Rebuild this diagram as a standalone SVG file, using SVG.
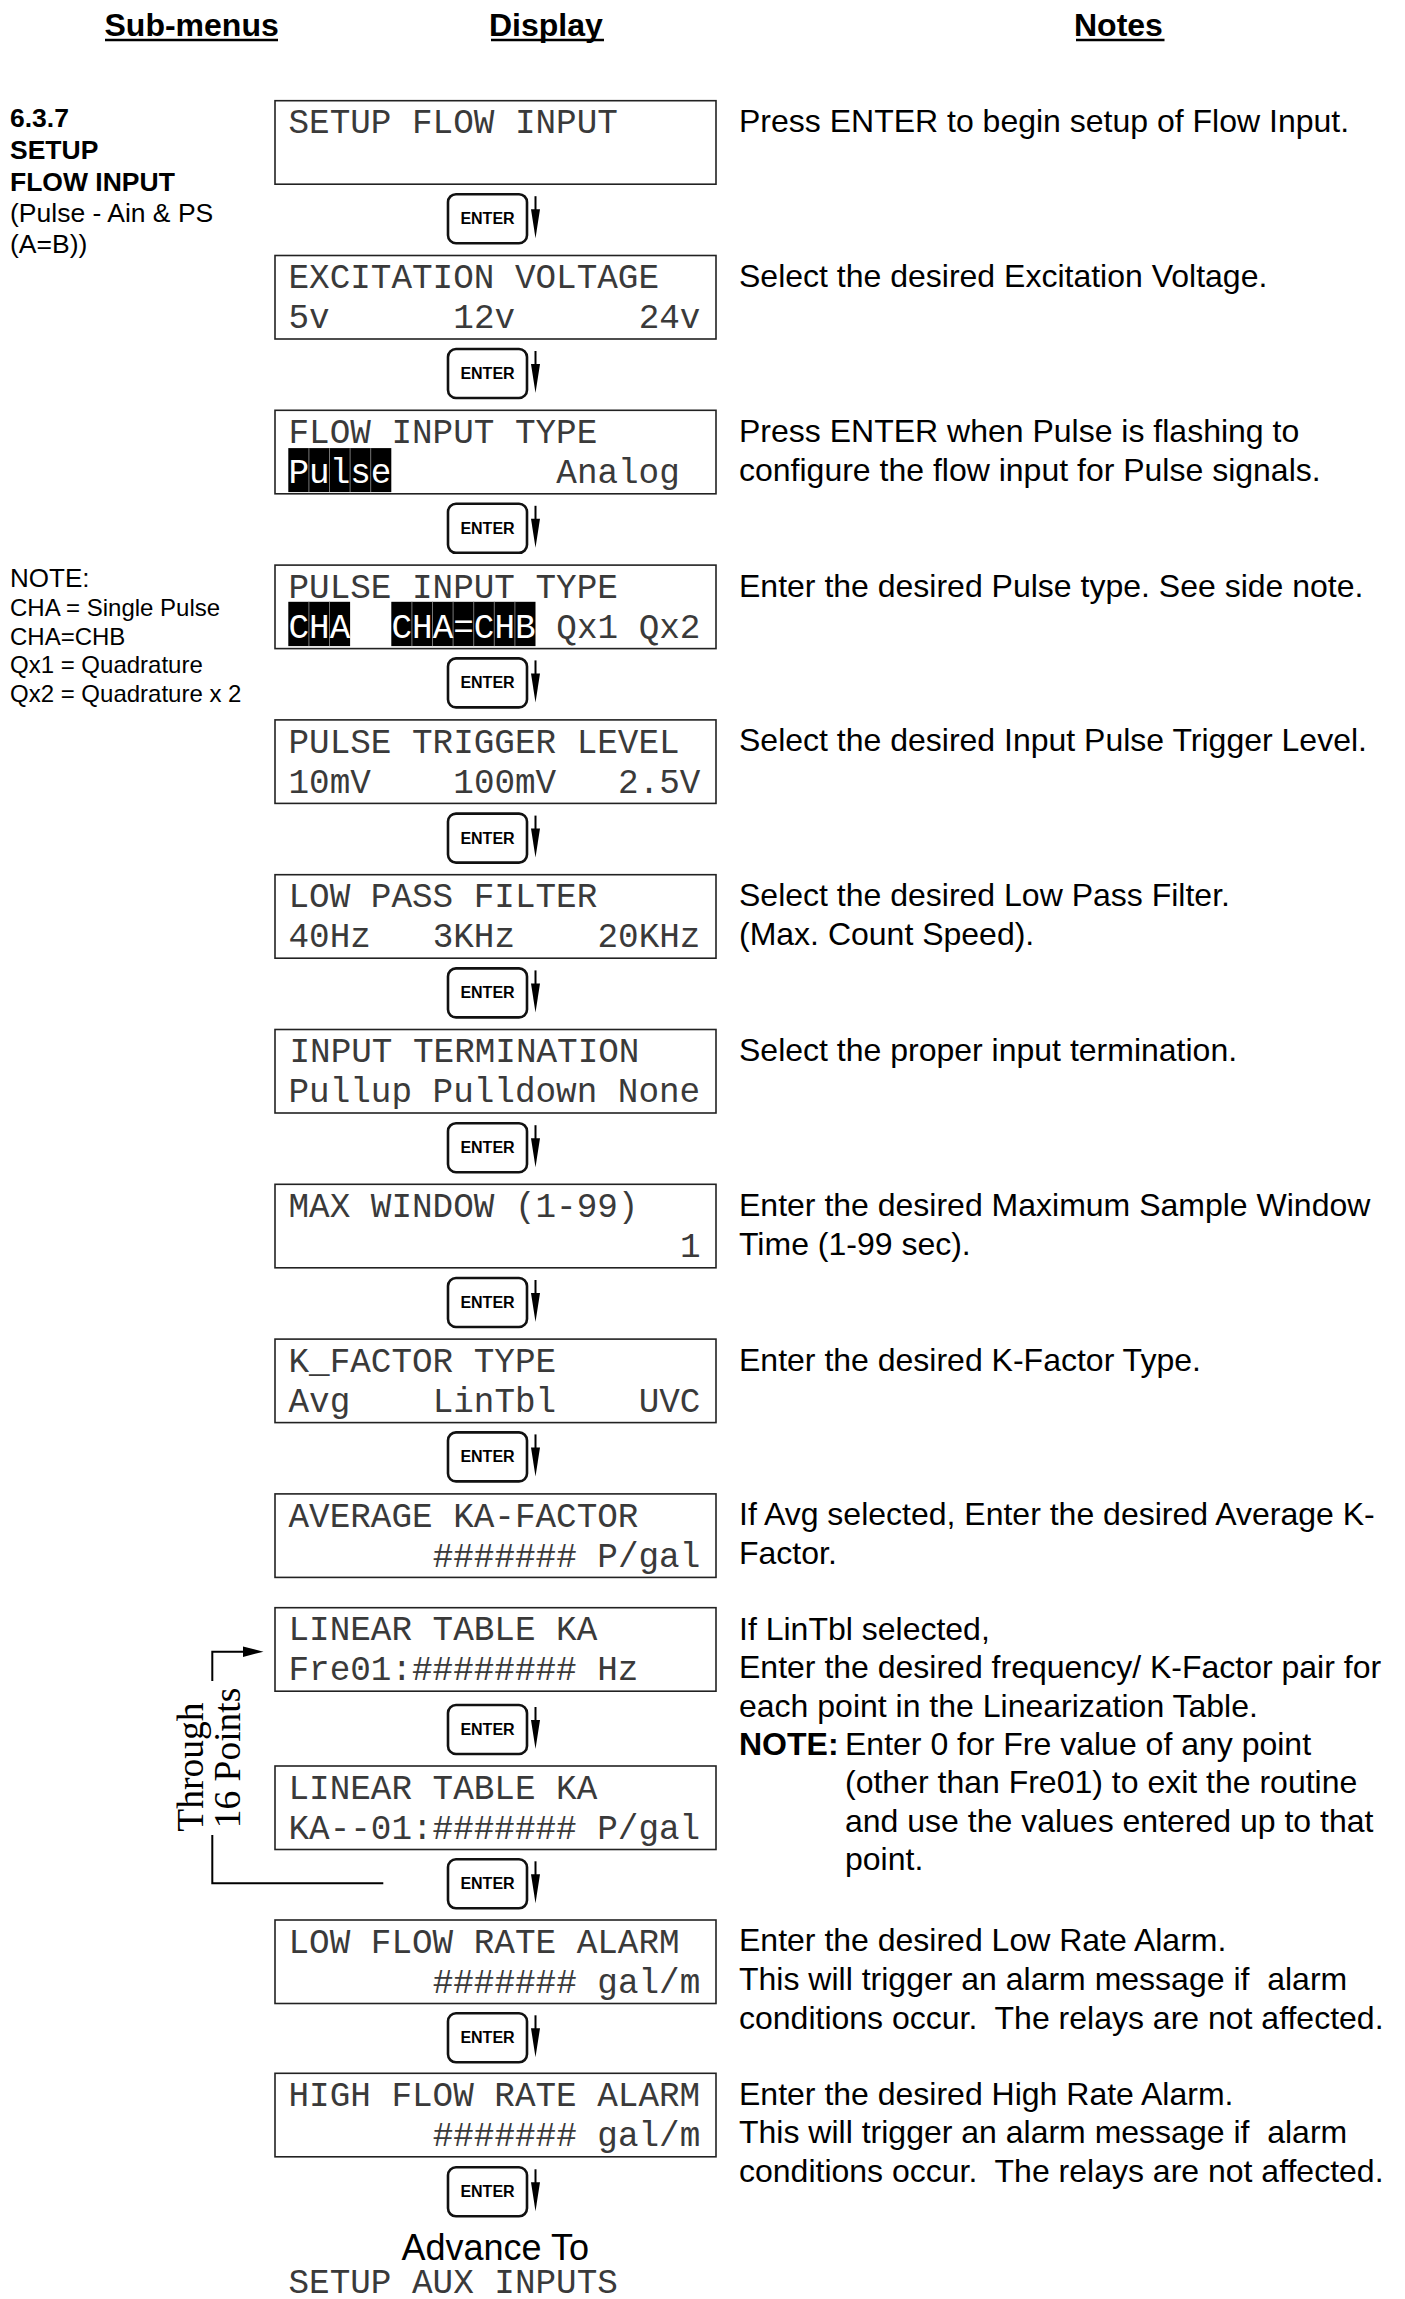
<svg xmlns="http://www.w3.org/2000/svg" width="1405" height="2299" viewBox="0 0 1405 2299">
<style>
.box{fill:#fff;stroke:#222;stroke-width:1.6}
.lcd{font-family:"Liberation Mono","DejaVu Sans Mono",monospace;font-size:34.3px;fill:#3a3a3a}
.inv{fill:#fff}
.hl{fill:#000}
.sep{stroke:#777;stroke-width:1}
.note{font-family:"Liberation Sans",Arial,sans-serif;font-size:32px;fill:#000;white-space:pre}
.hdr{font-family:"Liberation Sans",Arial,sans-serif;font-size:32px;font-weight:bold;fill:#000}
.ul{stroke:#000;stroke-width:2.5}
.side{font-family:"Liberation Sans",Arial,sans-serif;font-size:26.5px;fill:#000}
.sideb{font-weight:bold}
.sn{font-family:"Liberation Sans",Arial,sans-serif;font-size:24px;fill:#000}
.btnr{fill:#fff;stroke:#111;stroke-width:2.6}
.btnt{font-family:"Liberation Sans",Arial,sans-serif;font-weight:bold;font-size:16px;text-anchor:middle;fill:#000}
.ln{stroke:#000;stroke-width:2;fill:none}
.serif{font-family:"Liberation Serif","Times New Roman",serif;font-size:37.5px;fill:#000}
</style>
<defs>
<g id="enter">
<rect class="btnr" x="0" y="0" width="79" height="49" rx="8"/>
<text class="btnt" x="39.5" y="30">ENTER</text>
<line class="ln" x1="87.5" y1="2" x2="87.5" y2="20"/>
<polygon points="83,15 92,15 87.5,44" fill="#000"/>
</g>
</defs>

<g id="headers">
<text class="hdr" x="104.5" y="36">Sub-menus</text>
<line class="ul" x1="105" y1="40" x2="278" y2="40"/>
<text class="hdr" x="489" y="36">Display</text>
<line class="ul" x1="491" y1="40" x2="604" y2="40"/>
<text class="hdr" x="1074" y="36">Notes</text>
<line class="ul" x1="1076" y1="40" x2="1164.5" y2="40"/>
</g>

<g id="submenu-title">
<text class="side sideb" x="10" y="126.8">6.3.7</text>
<text class="side sideb" x="10" y="159">SETUP</text>
<text class="side sideb" x="10" y="191">FLOW INPUT</text>
<text class="side" x="10" y="222">(Pulse - Ain &amp; PS</text>
<text class="side" x="10" y="253">(A=B))</text>
</g>
<g id="side-note">
<text class="sn" x="10" y="587" style="font-size:26px">NOTE:</text>
<text class="sn" x="10" y="616">CHA = Single Pulse</text>
<text class="sn" x="10" y="644.5">CHA=CHB</text>
<text class="sn" x="10" y="673">Qx1 = Quadrature</text>
<text class="sn" x="10" y="701.5">Qx2 = Quadrature x 2</text>
</g>

<g id="node-setup-flow-input">
<rect class="box" x="275" y="100.7" width="441" height="83.5"/>
<text class="lcd" x="288.5" y="133.3">SETUP FLOW INPUT</text>
</g>
<g id="node-excitation-voltage">
<rect class="box" x="275" y="255.5" width="441" height="83.5"/>
<text class="lcd" x="288.5" y="288.1">EXCITATION VOLTAGE</text>
<text class="lcd" x="288.5" y="328.2">5v</text>
<text class="lcd" x="453.3" y="328.2">12v</text>
<text class="lcd" x="638.7" y="328.2">24v</text>
</g>
<g id="node-flow-input-type">
<rect class="box" x="275" y="410.3" width="441" height="83.5"/>
<text class="lcd" x="288.5" y="442.9">FLOW INPUT TYPE</text>
<rect class="hl" x="288.3" y="448.1" width="103" height="44"/>
<line class="sep" x1="308.9" y1="448.1" x2="308.9" y2="492.1"/>
<line class="sep" x1="329.5" y1="448.1" x2="329.5" y2="492.1"/>
<line class="sep" x1="350.1" y1="448.1" x2="350.1" y2="492.1"/>
<line class="sep" x1="370.7" y1="448.1" x2="370.7" y2="492.1"/>
<text class="lcd inv" x="288.5" y="483">Pulse</text>
<text class="lcd" x="556.3" y="483">Analog</text>
</g>
<g id="node-pulse-input-type">
<rect class="box" x="275" y="565.1" width="441" height="83.5"/>
<text class="lcd" x="288.5" y="597.7">PULSE INPUT TYPE</text>
<rect class="hl" x="288.3" y="601.8" width="61.8" height="44.3"/>
<rect class="hl" x="391.3" y="601.8" width="144.2" height="44.3"/>
<line class="sep" x1="308.9" y1="601.8" x2="308.9" y2="646.1"/>
<line class="sep" x1="329.5" y1="601.8" x2="329.5" y2="646.1"/>
<line class="sep" x1="411.9" y1="601.8" x2="411.9" y2="646.1"/>
<line class="sep" x1="432.5" y1="601.8" x2="432.5" y2="646.1"/>
<line class="sep" x1="453.1" y1="601.8" x2="453.1" y2="646.1"/>
<line class="sep" x1="473.7" y1="601.8" x2="473.7" y2="646.1"/>
<line class="sep" x1="494.3" y1="601.8" x2="494.3" y2="646.1"/>
<line class="sep" x1="514.9" y1="601.8" x2="514.9" y2="646.1"/>
<text class="lcd inv" x="288.5" y="637.8">CHA</text>
<text class="lcd inv" x="391.5" y="637.8">CHA=CHB</text>
<text class="lcd" x="556.3" y="637.8">Qx1</text>
<text class="lcd" x="638.7" y="637.8">Qx2</text>
</g>
<g id="node-pulse-trigger-level">
<rect class="box" x="275" y="719.9" width="441" height="83.5"/>
<text class="lcd" x="288.5" y="752.5">PULSE TRIGGER LEVEL</text>
<text class="lcd" x="288.5" y="792.6">10mV</text>
<text class="lcd" x="453.3" y="792.6">100mV</text>
<text class="lcd" x="618.1" y="792.6">2.5V</text>
</g>
<g id="node-low-pass-filter">
<rect class="box" x="275" y="874.7" width="441" height="83.5"/>
<text class="lcd" x="288.5" y="907.3">LOW PASS FILTER</text>
<text class="lcd" x="288.5" y="947.4">40Hz</text>
<text class="lcd" x="432.7" y="947.4">3KHz</text>
<text class="lcd" x="597.5" y="947.4">20KHz</text>
</g>
<g id="node-input-termination">
<rect class="box" x="275" y="1029.5" width="441" height="83.5"/>
<text class="lcd" x="289.5" y="1062.1">INPUT TERMINATION</text>
<text class="lcd" x="288.5" y="1102.2">Pullup Pulldown None</text>
</g>
<g id="node-max-window">
<rect class="box" x="275" y="1184.3" width="441" height="83.5"/>
<text class="lcd" x="288.5" y="1216.9">MAX WINDOW (1-99)</text>
<text class="lcd" x="679.9" y="1257">1</text>
</g>
<g id="node-k-factor-type">
<rect class="box" x="275" y="1339.1" width="441" height="83.5"/>
<text class="lcd" x="288.5" y="1371.7">K_FACTOR TYPE</text>
<text class="lcd" x="288.5" y="1411.8">Avg</text>
<text class="lcd" x="432.7" y="1411.8">LinTbl</text>
<text class="lcd" x="638.7" y="1411.8">UVC</text>
</g>
<g id="node-average-ka-factor">
<rect class="box" x="275" y="1493.9" width="441" height="83.5"/>
<text class="lcd" x="288.5" y="1526.5">AVERAGE KA-FACTOR</text>
<text class="lcd" x="432.7" y="1566.6">####### P/gal</text>
</g>
<g id="node-linear-table-fre">
<rect class="box" x="275" y="1607.7" width="441" height="83.5"/>
<text class="lcd" x="288.5" y="1640.3">LINEAR TABLE KA</text>
<text class="lcd" x="288.5" y="1680.4">Fre01:######## Hz</text>
</g>
<g id="node-linear-table-ka">
<rect class="box" x="275" y="1766" width="441" height="83.5"/>
<text class="lcd" x="288.5" y="1798.6">LINEAR TABLE KA</text>
<text class="lcd" x="288.5" y="1838.7">KA--01:####### P/gal</text>
</g>
<g id="node-low-flow-rate-alarm">
<rect class="box" x="275" y="1920" width="441" height="83.5"/>
<text class="lcd" x="288.5" y="1952.6">LOW FLOW RATE ALARM</text>
<text class="lcd" x="432.7" y="1992.7">####### gal/m</text>
</g>
<g id="node-high-flow-rate-alarm">
<rect class="box" x="275" y="2073.3" width="441" height="83.5"/>
<text class="lcd" x="288.5" y="2105.9">HIGH FLOW RATE ALARM</text>
<text class="lcd" x="432.7" y="2146">####### gal/m</text>
</g>
<g id="node-advance">
<text class="note" x="401.5" y="2260" style="font-size:36px">Advance To</text>
<text class="lcd" x="288.5" y="2292.5">SETUP AUX INPUTS</text>
</g>

<g id="connectors">
<use href="#enter" x="448" y="194.2"/>
<use href="#enter" x="448" y="349"/>
<use href="#enter" x="448" y="503.8"/>
<use href="#enter" x="448" y="658.4"/>
<use href="#enter" x="448" y="813.6"/>
<use href="#enter" x="448" y="968.4"/>
<use href="#enter" x="448" y="1123.2"/>
<use href="#enter" x="448" y="1278"/>
<use href="#enter" x="448" y="1432.4"/>
<use href="#enter" x="448" y="1705"/>
<use href="#enter" x="448" y="1859.3"/>
<use href="#enter" x="448" y="2013.3"/>
<use href="#enter" x="448" y="2167.3"/>
<polyline class="ln" points="212.3,1681 212.3,1651.7 246,1651.7"/>
<polygon points="243,1646.5 263.5,1651.7 243,1656.9" fill="#000"/>
<polyline class="ln" points="212.3,1835 212.3,1883.3 383.3,1883.3"/>
<text class="serif" transform="translate(203.3,1831.7) rotate(-90)">Through</text>
<text class="serif" transform="translate(240,1828.3) rotate(-90)">16 Points</text>
</g>

<g id="notes">
<text class="note" x="739" y="132.2">Press ENTER to begin setup of Flow Input.</text>
<text class="note" x="739" y="287">Select the desired Excitation Voltage.</text>
<text class="note" x="739" y="441.8">Press ENTER when Pulse is flashing to</text>
<text class="note" x="739" y="480.8">configure the flow input for Pulse signals.</text>
<text class="note" x="739" y="596.6">Enter the desired Pulse type. See side note.</text>
<text class="note" x="739" y="751.4">Select the desired Input Pulse Trigger Level.</text>
<text class="note" x="739" y="906.2">Select the desired Low Pass Filter.</text>
<text class="note" x="739" y="945.2">(Max. Count Speed).</text>
<text class="note" x="739" y="1061">Select the proper input termination.</text>
<text class="note" x="739" y="1215.8">Enter the desired Maximum Sample Window</text>
<text class="note" x="739" y="1254.8">Time (1-99 sec).</text>
<text class="note" x="739" y="1370.6">Enter the desired K-Factor Type.</text>
<text class="note" x="739" y="1525.4">If Avg selected, Enter the desired Average K-</text>
<text class="note" x="739" y="1564.4">Factor.</text>
<text class="note" x="739" y="1640">If LinTbl selected,</text>
<text class="note" x="739" y="1678.3">Enter the desired frequency/ K-Factor pair for</text>
<text class="note" x="739" y="1716.6">each point in the Linearization Table.</text>
<text class="note" x="739" y="1754.9" font-weight="bold">NOTE:</text>
<text class="note" x="845" y="1754.9">Enter 0 for Fre value of any point</text>
<text class="note" x="845" y="1793.2">(other than Fre01) to exit the routine</text>
<text class="note" x="845" y="1831.5">and use the values entered up to that</text>
<text class="note" x="845" y="1869.8">point.</text>
<text class="note" x="739" y="1951">Enter the desired Low Rate Alarm.</text>
<text class="note" x="739" y="1989.8" xml:space="preserve">This will trigger an alarm message if  alarm</text>
<text class="note" x="739" y="2028.6" xml:space="preserve">conditions occur.  The relays are not affected.</text>
<text class="note" x="739" y="2104.5">Enter the desired High Rate Alarm.</text>
<text class="note" x="739" y="2143.3" xml:space="preserve">This will trigger an alarm message if  alarm</text>
<text class="note" x="739" y="2182.1" xml:space="preserve">conditions occur.  The relays are not affected.</text>
</g>
</svg>
